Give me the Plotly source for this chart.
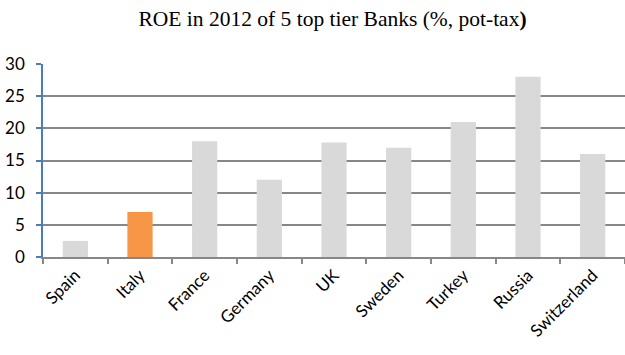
import plotly.graph_objects as go

countries = ["Spain", "Italy", "France", "Germany", "UK", "Sweden", "Turkey", "Russia", "Switzerland"]
roe = [2.5, 7, 18, 12, 17.8, 17, 21, 28, 16]
highlight = "Italy"

colors = ["#F79646" if c == highlight else "#D9D9D9" for c in countries]

fig = go.Figure(go.Bar(x=countries, y=roe, marker=dict(color=colors, line=dict(width=0))))

fig.update_layout(
    width=625, height=355,
    margin=dict(l=43, r=0, t=64, b=98),
    paper_bgcolor="white", plot_bgcolor="white",
    bargap=0.61,
    showlegend=False,
    title=dict(
        text="ROE in 2012 of 5 top tier Banks (%, pot-tax<b>)</b>",
        x=0.532, xanchor="center", y=0.948, yanchor="middle",
        font=dict(family="Liberation Serif", size=21.5, color="black"),
    ),
    font=dict(family="Lato", color="black"),
)
fig.update_yaxes(
    range=[0, 30], tickvals=[0, 5, 10, 15, 20, 25, 30],
    showgrid=True, gridcolor="#878787", gridwidth=1.5,
    showline=True, linecolor="#4A7EBB", linewidth=1.5,
    ticks="outside", ticklen=5, tickcolor="#4A7EBB", tickwidth=1.5,
    ticklabelstandoff=8,
    tickfont=dict(size=17, family="Lato", color="black"),
    zeroline=False,
)
fig.update_xaxes(
    showline=True, linecolor="#878787", linewidth=1.5,
    ticks="outside", ticklen=5, tickcolor="#878787", tickwidth=1.5,
    tickson="boundaries", tickangle=-45,
    tickfont=dict(size=17, family="Lato", color="black"),
)

fig.write_html("out.html")
